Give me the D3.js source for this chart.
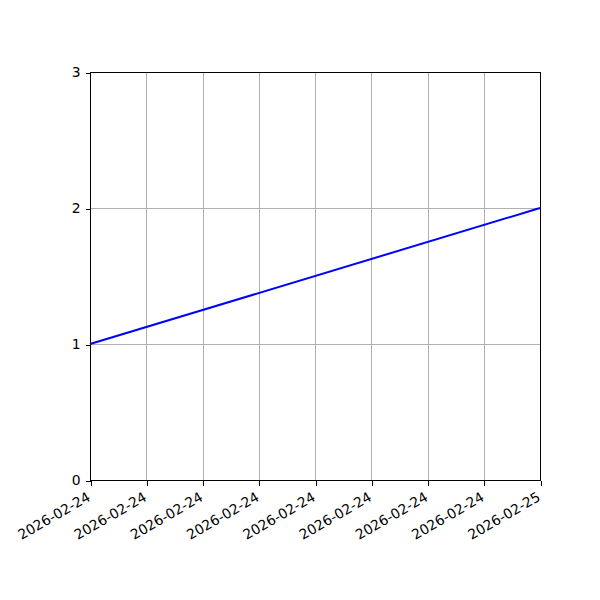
<!DOCTYPE html>
<html>
<head>
<meta charset="utf-8">
<script src="https://cdn.jsdelivr.net/npm/d3@7"></script>
<style>
  body { margin: 0; background: #fff; }
  text { font-family: "DejaVu Sans", sans-serif; }
</style>
</head>
<body>
<div class="chart"></div>
<script>
// series: two points, start and end of the day
const dates = ["2026-02-24T00:00:00", "2026-02-25T00:00:00"];
const values = [1, 2];
const yTicks = [0, 1, 2, 3];

const parse = d3.isoParse;
const data = dates.map((d, i) => ({date: parse(d), value: values[i]}));

const width = 600, height = 600;
const margin = {top: 72, right: 60, bottom: 120, left: 90};

const svg = d3.select('.chart')
	.append('svg')
	.attr('width', width)
	.attr('height', height);

const x = d3.scaleTime()
	.domain(d3.extent(data, d => d.date))
	.range([margin.left, width - margin.right]);

const y = d3.scaleLinear()
	.domain([0, 3])
	.range([height - margin.bottom, margin.top]);

const xTicks = x.ticks(d3.timeHour.every(3));

// grid
svg.append('g').selectAll('line')
	.data(xTicks)
	.enter().append('line')
	.attr('x1', d => Math.round(x(d)) + 0.5).attr('x2', d => Math.round(x(d)) + 0.5)
	.attr('y1', margin.top).attr('y2', height - margin.bottom)
	.attr('stroke', '#b0b0b0').attr('stroke-width', 1)
	.attr('shape-rendering', 'crispEdges');
svg.append('g').selectAll('line')
	.data(yTicks)
	.enter().append('line')
	.attr('x1', margin.left).attr('x2', width - margin.right)
	.attr('y1', d => Math.round(y(d)) + 0.5).attr('y2', d => Math.round(y(d)) + 0.5)
	.attr('stroke', '#b0b0b0').attr('stroke-width', 1)
	.attr('shape-rendering', 'crispEdges');

// line
const line = d3.line().x(d => x(d.date)).y(d => y(d.value));
svg.append('path')
	.datum(data)
	.attr('d', line)
	.attr('fill', 'none')
	.attr('stroke', 'blue')
	.attr('stroke-width', 2);

// frame
svg.append('rect')
	.attr('x', margin.left + 0.5).attr('y', margin.top + 0.5)
	.attr('width', width - margin.left - margin.right)
	.attr('height', height - margin.top - margin.bottom)
	.attr('fill', 'none').attr('stroke', 'black').attr('stroke-width', 1)
	.attr('shape-rendering', 'crispEdges');

// axes
const xAxis = svg.append('g')
	.attr('transform', `translate(0.5,${height - margin.bottom + 0.5})`)
	.call(d3.axisBottom(x).tickValues(xTicks).tickFormat(d3.timeFormat('%Y-%m-%d')).tickSize(5).tickPadding(3));
xAxis.select('.domain').remove();
xAxis.selectAll('line').attr('shape-rendering', 'crispEdges');
xAxis.selectAll('text')
	.attr('font-size', 13.9)
	.attr('fill', 'black')
	.attr('text-anchor', 'end')
	.attr('dy', '0.35em')
	.attr('transform', 'translate(-2,15) rotate(-30)')
	.attr('y', 0);

const yAxis = svg.append('g')
	.attr('transform', `translate(${margin.left + 0.5},0.5)`)
	.call(d3.axisLeft(y).tickValues(yTicks).tickFormat(d3.format('d')).tickSize(5).tickPadding(5));
yAxis.select('.domain').remove();
yAxis.selectAll('line').attr('shape-rendering', 'crispEdges');
yAxis.selectAll('text').attr('font-size', 13.9).attr('fill', 'black');
</script>
</body>
</html>
